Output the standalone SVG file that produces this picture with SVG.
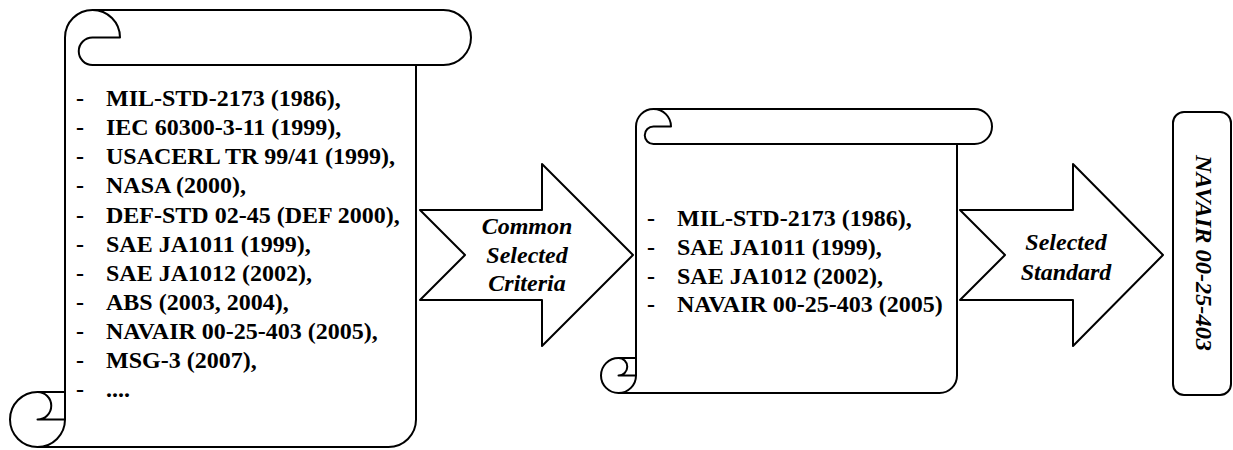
<svg xmlns="http://www.w3.org/2000/svg" width="1233" height="450" viewBox="0 0 1233 450">
<style>
.ln{fill:none;stroke:#000;stroke-width:2;stroke-linejoin:round}
.sh{fill:#fff;stroke:#000;stroke-width:2;stroke-linejoin:round}
text{font-family:'Liberation Serif',Tinos,'Times New Roman','Nimbus Roman','DejaVu Serif',serif;font-weight:700;font-size:24px;fill:#000}
.it{font-style:italic}
</style>
<rect width="1233" height="450" fill="#fff"/>
<g id="scroll-all-standards">
<path class="sh" d="M65,37.5 A27.5,27.5 0 0 1 92.5,10 L443.5,10 A27.5,27.5 0 0 1 443.5,65 L416,65 L416,419.5 A27.5,27.5 0 0 1 388.5,447 L37.5,447 A27.5,27.5 0 0 1 10,419.5 A27.5,27.5 0 0 1 37.5,392 L65,392 Z"/>
<path class="ln" d="M416,65 L92.5,65 M92.5,10 A27.5,27.5 0 0 1 120,37.5 L92.5,37.5 A13.75,13.75 0 0 0 92.5,65 M65,392 L65,419.5 A27.5,27.5 0 0 1 37.5,447 M37.5,392 A13.75,13.75 0 0 1 37.5,419.5 L65,419.5"/>
<g>
<text x="76" y="106">-</text><text x="106" y="106">MIL-STD-2173 (1986),</text>
<text x="76" y="135">-</text><text x="106" y="135">IEC 60300-3-11 (1999),</text>
<text x="76" y="164">-</text><text x="106" y="164">USACERL TR 99/41 (1999),</text>
<text x="76" y="193">-</text><text x="106" y="193">NASA (2000),</text>
<text x="76" y="222.5">-</text><text x="106" y="222.5">DEF-STD 02-45 (DEF 2000),</text>
<text x="76" y="251.5">-</text><text x="106" y="251.5">SAE JA1011 (1999),</text>
<text x="76" y="280.5">-</text><text x="106" y="280.5">SAE JA1012 (2002),</text>
<text x="76" y="309.5">-</text><text x="106" y="309.5">ABS (2003, 2004),</text>
<text x="76" y="338.5">-</text><text x="106" y="338.5">NAVAIR 00-25-403 (2005),</text>
<text x="76" y="368">-</text><text x="106" y="368">MSG-3 (2007),</text>
<text x="76" y="397">-</text><text x="106" y="397">....</text>
</g>
</g>
<g id="scroll-common-standards">
<path class="sh" d="M636,126.5 A17.5,17.5 0 0 1 653.5,109 L974.5,109 A17.5,17.5 0 0 1 974.5,144 L957,144 L957,375.5 A17.5,17.5 0 0 1 939.5,393 L618.5,393 A17.5,17.5 0 0 1 601,375.5 A17.5,17.5 0 0 1 618.5,358 L636,358 Z"/>
<path class="ln" d="M957,144 L653.5,144 M653.5,109 A17.5,17.5 0 0 1 671,126.5 L653.5,126.5 A8.75,8.75 0 0 0 653.5,144 M636,358 L636,375.5 A17.5,17.5 0 0 1 618.5,393 M618.5,358 A8.75,8.75 0 0 1 618.5,375.5 L636,375.5"/>
<g>
<text x="647" y="226">-</text><text x="677" y="226">MIL-STD-2173 (1986),</text>
<text x="647" y="255">-</text><text x="677" y="255">SAE JA1011 (1999),</text>
<text x="647" y="283.5">-</text><text x="677" y="283.5">SAE JA1012 (2002),</text>
<text x="647" y="312">-</text><text x="677" y="312">NAVAIR 00-25-403 (2005)</text>
</g>
</g>
<g id="connectors">
<g id="arrow-common-criteria">
<polygon class="sh" points="420,210 542,210 542,164 633,255 542,346 542,300 420,300 465,255"/>
<g text-anchor="middle">
<text class="it" x="527" y="234">Common</text>
<text class="it" x="527" y="262.5">Selected</text>
<text class="it" x="527" y="291">Criteria</text>
</g>
</g>
<g id="arrow-selected-standard">
<polygon class="sh" points="960,210 1073,210 1073,164 1163,255 1073,346 1073,300 960,300 1005,255"/>
<g text-anchor="middle">
<text class="it" x="1066" y="250">Selected</text>
<text class="it" x="1066" y="280">Standard</text>
</g>
</g>
</g>
<g id="result-navair">
<rect class="sh" x="1173" y="112" width="58" height="283" rx="11"/>
<text class="it" transform="translate(1196,253) rotate(90)" text-anchor="middle" textLength="196" lengthAdjust="spacingAndGlyphs">NAVAIR 00-25-403</text>
</g>
</svg>
